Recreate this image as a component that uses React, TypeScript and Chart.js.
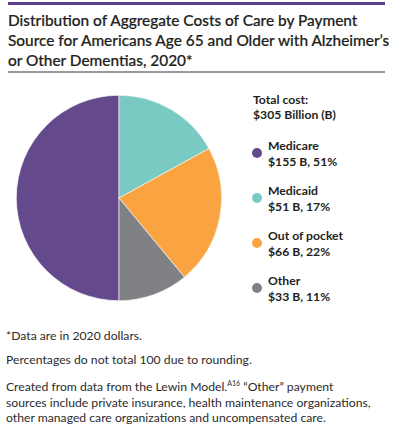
import React, { useEffect, useRef } from "react";
import { Chart, registerables } from "chart.js";

Chart.register(...registerables);

const titleLines = [
  "Distribution of Aggregate Costs of Care by Payment",
  "Source for Americans Age 65 and Older with Alzheimer\u2019s",
  "or Other Dementias, 2020*",
];
const totalLines = ["Total cost:", "$305 Billion (B)"];
const categories = ["Medicare", "Medicaid", "Out of pocket", "Other"];
const costsB = [155, 51, 66, 33];
const percents = [51, 17, 22, 11];
// slice shares as drawn in the picture (Medicare fills exactly half)
const sliceShares = [50, 17, 22, 11];
const colors = ["#644a8c", "#79cac3", "#f9a341", "#808184"];
const footnotes = [
  "*Data are in 2020 dollars.",
  "Percentages do not total 100 due to rounding.",
];

const FONT = "Lato, 'Open Sans', sans-serif";

export default function App() {
  const ref = useRef<HTMLCanvasElement | null>(null);
  useEffect(() => {
    if (!ref.current) return;
    const chart = new Chart(ref.current, {
      type: "pie",
      data: {
        labels: categories,
        datasets: [
          {
            data: sliceShares,
            backgroundColor: colors,
            borderColor: "#ffffff",
            borderWidth: 0.6,
          },
        ],
      },
      options: {
        animation: false,
        responsive: false,
        rotation: 180,
        layout: { padding: 0 },
        plugins: { legend: { display: false }, tooltip: { enabled: false } },
      },
    });
    return () => chart.destroy();
  }, []);

  const abs = (s: React.CSSProperties): React.CSSProperties => ({ position: "absolute", ...s });

  return (
    <div style={{ position: "fixed", left: 0, top: 0, width: 393, height: 433, background: "#fff", fontFamily: FONT, color: "#231f20" }}>
      <div style={abs({ left: 8, top: 2, width: 377, height: 3, background: "#5c408f" })} />
      <div style={abs({ left: 8, top: 10, width: 385, fontSize: 15.4, fontWeight: 500, lineHeight: "20px", whiteSpace: "nowrap", WebkitTextStroke: "0.2px #231f20" })}>
        {titleLines.map((t, i) => (
          <div key={i}>{t}</div>
        ))}
      </div>
      <div style={abs({ left: 8, top: 71, width: 377, height: 2, background: "#9a9a9a" })} />
      <canvas ref={ref} width={206} height={206} style={abs({ left: 16, top: 95, width: 206, height: 206 })} />
      <div style={abs({ left: 253, top: 92, fontSize: 12.2, fontWeight: 700, lineHeight: "15px", whiteSpace: "nowrap" })}>
        {totalLines.map((t, i) => (
          <div key={i}>{t}</div>
        ))}
      </div>
      {categories.map((c, i) => (
        <div key={c} style={abs({ left: 252, top: 138 + i * 45, whiteSpace: "nowrap" })}>
          <div style={abs({ left: 0, top: 10, width: 10, height: 10, borderRadius: 5, background: colors[i] })} />
          <div style={abs({ left: 16, top: 0, fontSize: 12.2, fontWeight: 700, lineHeight: "15.5px" })}>
            <div>{c}</div>
            <div>{`$${costsB[i]} B, ${percents[i]}%`}</div>
          </div>
        </div>
      ))}
      <div style={abs({ left: 6, top: 328, fontSize: 12.2, lineHeight: "15.5px", color: "#2b2b2b", whiteSpace: "nowrap" })}>
        <div>{footnotes[0]}</div>
        <div style={{ marginTop: 8 }}>{footnotes[1]}</div>
        <div style={{ marginTop: 9 }}>
          Created from data from the Lewin Model.<sup style={{ fontSize: 7, verticalAlign: "5px" }}>A16</sup> {"\u201COther\u201D payment"}
        </div>
        <div>sources include private insurance, health maintenance organizations,</div>
        <div>other managed care organizations and uncompensated care.</div>
      </div>
    </div>
  );
}
